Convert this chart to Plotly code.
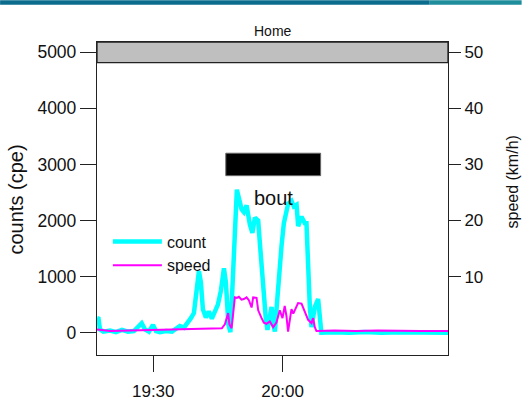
import plotly.graph_objects as go

DAY = "2014-05-12 "

# ---- data ----
count_time = ["19:16:57", "19:17:18", "19:17:38", "19:18:25", "19:20:00", "19:21:21", "19:22:45",
              "19:24:08", "19:25:31", "19:26:27", "19:27:19", "19:28:04", "19:29:00", "19:29:56",
              "19:30:38", "19:31:33", "19:32:57", "19:34:20", "19:35:16", "19:36:11", "19:37:07",
              "19:38:03", "19:38:44", "19:39:26", "19:40:08", "19:40:36", "19:41:03", "19:41:31",
              "19:42:13", "19:42:54", "19:43:36", "19:44:18", "19:45:00", "19:45:42", "19:46:24",
              "19:46:51", "19:47:26", "19:47:54", "19:48:29", "19:48:56", "19:49:24", "19:49:52",
              "19:50:29", "19:51:01", "19:51:39", "19:52:25", "19:53:00", "19:53:35", "19:54:21",
              "19:54:44", "19:55:12", "19:55:40", "19:56:07", "19:56:30", "19:57:02", "19:57:27",
              "19:57:52", "19:58:13", "19:58:41", "19:59:08", "19:59:46", "20:00:18", "20:00:46",
              "20:01:18", "20:02:05", "20:02:37", "20:03:15", "20:03:37", "20:04:24", "20:05:10",
              "20:05:33", "20:05:56", "20:06:20", "20:06:43", "20:07:01", "20:07:29", "20:08:15",
              "20:08:39", "20:09:00", "20:12:00", "20:15:30", "20:19:00", "20:23:00", "20:27:00",
              "20:31:00", "20:35:00", "20:38:23"]
count_values = [260, 250, 60, 20, 40, 10, 50,
                20, 30, 100, 170, 60, 20, 140,
                30, 10, 30, 20, 60, 120, 90,
                180, 260, 350, 800, 1100, 900, 420,
                270, 380, 250, 400, 500, 750, 1150,
                900, 150, 10, 900, 1800, 2550, 2400,
                2200, 2150, 2270, 1930, 1780, 2050, 2000,
                1600, 1100, 550, 250, 50, 300, 460,
                150, 20, 500, 1000, 1550, 1950, 2150,
                2300, 2350, 2250, 2280, 1900, 2070, 1950,
                1950, 940, 450, 100, 250, 460, 600,
                150, 0, 10, 0, 15, 0, 10,
                0, 10, 0]

speed_time = ["19:16:57", "19:20:00", "19:24:40", "19:29:20", "19:34:00", "19:38:40", "19:45:55",
              "19:46:37", "19:47:05", "19:47:23", "19:47:40", "19:48:10", "19:48:29", "19:48:56",
              "19:49:24", "19:49:52", "19:50:29", "19:51:01", "19:51:39", "19:52:11", "19:52:49",
              "19:53:11", "19:53:58", "19:54:21", "19:55:08", "19:55:40", "19:56:17", "19:57:02",
              "19:57:49", "19:58:35", "19:59:21", "19:59:59", "20:00:30", "20:00:54", "20:01:17",
              "20:01:40", "20:02:04", "20:02:29", "20:02:57", "20:03:36", "20:04:24", "20:05:10",
              "20:05:56", "20:06:43", "20:07:05", "20:07:29", "20:07:52", "20:12:00", "20:17:00",
              "20:22:00", "20:27:00", "20:32:00", "20:38:23"]
speed_values = [0.6, 0.3, 0.4, 0.5, 0.6, 0.7, 0.8,
                1.5, 3.0, 3.5, 1.5, 0.8, 3.0, 6.3,
                6.2, 6.4, 5.9, 6.0, 6.3, 5.8, 4.5,
                6.3, 6.2, 4.0, 2.6, 1.8, 1.6, 2.0,
                1.0, 1.8, 4.0, 2.6, 4.8, 3.0, 0.2,
                2.5, 4.2, 3.4, 4.2, 5.3, 5.2, 3.8,
                2.3, 1.7, 2.6, 1.0, 0.3, 0.4, 0.3,
                0.4, 0.3, 0.3, 0.3]

bout_start, bout_end = "19:46:50", "20:08:50"
bout_low, bout_high = 2800, 3200
bout_label_time, bout_label_count = "19:57:50", 2400

count_ticks = [0, 1000, 2000, 3000, 4000, 5000]
speed_ticks = [10, 20, 30, 40, 50]
time_ticks = ["19:30:00", "20:00:00"]
time_labels = ["19:30", "20:00"]
x_range = ["19:16:57", "20:38:23"]
count_range = [-397, 5183]
speed_range = [-3.97, 51.83]

FONT = "Liberation Sans, Arial, sans-serif"
AX = "#222222"

fig = go.Figure()
fig.add_trace(go.Scatter(x=[DAY + t for t in count_time], y=count_values, name="count",
                         mode="lines", line=dict(color="#00FFFF", width=4.5), yaxis="y"))
fig.add_trace(go.Scatter(x=[DAY + t for t in speed_time], y=speed_values, name="speed",
                         mode="lines", line=dict(color="#FF00FF", width=2), yaxis="y2"))

fig.update_layout(
    width=522, height=402,
    margin=dict(l=97, r=74, t=42, b=47),
    paper_bgcolor="white", plot_bgcolor="white",
    font=dict(family=FONT, color="#111111"),
    xaxis=dict(type="date", range=[DAY + x_range[0], DAY + x_range[1]],
               tickvals=[DAY + t for t in time_ticks], ticktext=time_labels,
               ticks="outside", ticklen=16, tickwidth=1.3, tickcolor=AX,
               showline=True, linecolor=AX, linewidth=1.3, mirror=True,
               showgrid=False, zeroline=False, tickfont=dict(size=17),
               ticklabelstandoff=4, automargin=False),
    yaxis=dict(range=count_range, tickvals=count_ticks,
               ticks="outside", ticklen=16, tickwidth=1.3, tickcolor=AX,
               showline=True, linecolor=AX, linewidth=1.3, mirror=True,
               showgrid=False, zeroline=False, tickfont=dict(size=17.5), automargin=False),
    yaxis2=dict(range=speed_range, tickvals=speed_ticks, overlaying="y", side="right",
                ticks="outside", ticklen=12, tickwidth=1.3, tickcolor=AX,
                showline=False, showgrid=False, zeroline=False, tickfont=dict(size=17),
                automargin=False),
    legend=dict(x=0.031, y=0.417, xanchor="left", yanchor="top",
                bgcolor="rgba(0,0,0,0)", font=dict(size=16), itemwidth=49),
    showlegend=True,
)

shapes = [
    dict(type="rect", xref="paper", yref="paper", x0=0, x1=1, y0=0.9343, y1=1,
         fillcolor="#bfbfbf", line=dict(color=AX, width=1.3), layer="above"),
    dict(type="rect", xref="x", yref="y", x0=DAY + bout_start, x1=DAY + bout_end,
         y0=bout_low, y1=bout_high, fillcolor="black", line=dict(color="#666666", width=1),
         layer="above"),
    dict(type="rect", xref="paper", yref="paper", x0=-0.2761, x1=0.948, y0=1.1187, y1=1.1331,
         fillcolor="#0b6c8e", line=dict(width=0)),
    dict(type="rect", xref="paper", yref="paper", x0=0.948, x1=1.2098, y0=1.1187, y1=1.1331,
         fillcolor="#1f8e9c", line=dict(width=0)),
]
fig.update_layout(shapes=shapes)

fig.add_annotation(text="Home", xref="paper", yref="paper", x=0.501, y=1.0357,
                   showarrow=False, font=dict(size=14), xanchor="center", yanchor="middle")
fig.add_annotation(text="bout", xref="x", yref="y", x=DAY + bout_label_time, y=bout_label_count,
                   showarrow=False, font=dict(size=20), xanchor="center", yanchor="middle")
fig.add_annotation(text="counts (cpe)", xref="paper", yref="paper", x=-0.2306, y=0.497,
                   textangle=-90, showarrow=False, font=dict(size=20),
                   xanchor="center", yanchor="middle")
fig.add_annotation(text="speed (km/h)", xref="paper", yref="paper", x=1.184, y=0.553,
                   textangle=-90, showarrow=False, font=dict(size=16),
                   xanchor="center", yanchor="middle")

fig.write_html("out.html", config={"displayModeBar": False},
               post_script="document.body.style.margin='0';")
